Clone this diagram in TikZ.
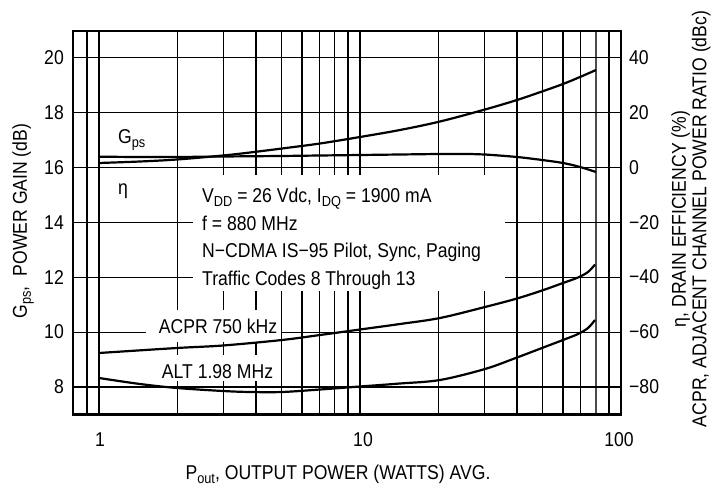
\documentclass[tikz,border=0pt]{standalone}
\usepackage{fontspec}
\setmainfont{Liberation Sans}[FakeStretch=0.88]
\newcommand\sbs[1]{\raisebox{-4pt}{\fontsize{14.5}{14.5}\selectfont #1}}
\begin{document}
\begin{tikzpicture}[x=1pt,y=-1pt,
  gridline/.style={line width=1.2pt,black},
  frameline/.style={line width=2.2pt,black},
  curve/.style={line width=2.2pt,black,smooth,tension=0.55},
  lbl/.style={inner sep=0pt,font=\fontsize{20}{27.5}\selectfont},
  mask/.style={fill=white,draw=none}]
\useasboundingbox (0,0) rectangle (715,489);
% vertical grid
\foreach \xx in {87,99,177.6,223.5,256,281.5,302,319.5,334.5,348,360,438.6,484.5,517,542.5,563,580.6,609}
  \draw[gridline] (\xx,31) -- (\xx,414.5);
\draw[line width=2.4pt,black!70] (595.7,31) -- (595.7,414.5);
% horizontal grid
\foreach \yy in {57.4,112.3,167.2,222.2,277.1,332.1,387}
  \draw[gridline] (73,\yy) -- (621,\yy);
% masks behind labels
\fill[mask] (193,175) rectangle (505,291);
\fill[mask] (146,310) rectangle (281,342);
\fill[mask] (149,355) rectangle (279,381);
% frame
\draw[frameline] (73,31) rectangle (621,414.5);
% curves
\draw[curve] plot coordinates {(99,156.7) (140,157) (177,157) (223,156.5) (280,156) (320,155.5) (360,155) (400,154.5) (440,154) (470,154) (485,154.5) (517,157) (542,160) (563,163) (580,167) (596,172)};
\draw[curve] plot coordinates {(99,163) (140,161.5) (177,159.5) (223,155.5) (250,152.5) (282,148.5) (320,143.5) (360,137) (400,130) (440,121.5) (485,109.5) (517,100) (542,91.5) (563,84) (580,77) (596,70)};
\draw[curve] plot coordinates {(99,353) (177,348) (223,345.5) (282,340) (320,335) (360,329.5) (400,324) (440,318) (485,307) (517,298.5) (542,290.5) (563,283) (578,277.5) (588,272) (595,264.5)};
\draw[curve] plot coordinates {(99,378) (140,384) (177,388) (223,391) (250,392) (282,392) (320,389.5) (360,386.5) (400,383.5) (440,380) (485,369) (517,357.5) (542,348) (563,340) (578,334) (588,328) (595,320)};
% left tick labels
\node[lbl,anchor=east] (l20) at (64,57.4) {20};
\node[lbl,anchor=east] (l18) at (64,112.3) {18};
\node[lbl,anchor=east] (l16) at (64,167.2) {16};
\node[lbl,anchor=east] (l14) at (64,222.2) {14};
\node[lbl,anchor=east] (l12) at (64,277.1) {12};
\node[lbl,anchor=east] (l10) at (64,332.1) {10};
\node[lbl,anchor=east] (l8) at (64,387) {8};
% right tick labels
\node[lbl,anchor=west] (r40) at (629,57.4) {40};
\node[lbl,anchor=west] (r20) at (629,112.3) {20};
\node[lbl,anchor=west] (r0) at (629,167.2) {0};
\node[lbl,anchor=west] (rm20) at (629,222.2) {−20};
\node[lbl,anchor=west] (rm40) at (629,277.1) {−40};
\node[lbl,anchor=west] (rm60) at (629,332.1) {−60};
\node[lbl,anchor=west] (rm80) at (629,387) {−80};
% bottom tick labels
\node[lbl] (b1) at (100,440) {1};
\node[lbl] (b10) at (363,440) {10};
\node[lbl] (b100) at (619,440) {100};
% axis titles
\node[lbl,anchor=base] (xt) at (338,479) {P\sbs{out}, OUTPUT POWER (WATTS) AVG.};
\node[lbl,anchor=base,rotate=90] (ylt) at (27,221) {G\sbs{ps},\ \ POWER GAIN (dB)};
\node[lbl,align=center,rotate=90,font=\fontsize{20}{20.5}\selectfont] (yrt) at (691,219) {η, DRAIN EFFICIENCY (\%)\\ACPR, ADJACENT CHANNEL POWER RATIO (dBc)};
% curve labels
\node[lbl,anchor=base west] (gps) at (118,144) {G\sbs{ps}};
\node[lbl,anchor=base west] (eta) at (118,195) {η};
\node[lbl] (acpr) at (218,326.5) {ACPR 750 kHz};
\node[lbl] (alt) at (217.5,372) {ALT 1.98 MHz};
% conditions
\node[lbl,anchor=base west] (c1) at (202,203) {V\sbs{DD} = 26 Vdc, I\sbs{DQ} = 1900 mA};
\node[lbl,anchor=base west] (c2) at (202,230.5) {f = 880 MHz};
\node[lbl,anchor=base west] (c3) at (202,258) {N−CDMA IS−95 Pilot, Sync, Paging};
\node[lbl,anchor=base west] (c4) at (202,285) {Traffic Codes 8 Through 13};
\end{tikzpicture}
\end{document}
